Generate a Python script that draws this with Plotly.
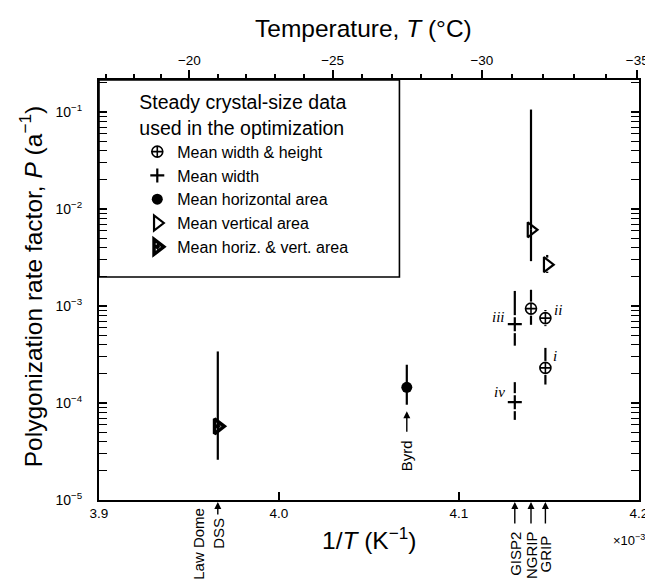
import math
import plotly.graph_objects as go

# ---------------- data ----------------
# inverse temperature in units of 1e-3 K^-1
site_names = ["DSS", "Byrd", "GISP2", "NGRIP", "GRIP"]
site_invT = [3.966, 4.071, 4.131, 4.140, 4.148]

# Mean width & height (circle with crosshair)
wh_invT = [4.140, 4.148, 4.148]
wh_P = [9.4e-4, 7.5e-4, 2.3e-4]
wh_lo = [6.4e-4, 6.2e-4, 1.55e-4]
wh_hi = [1.47e-3, 9.1e-4, 3.7e-4]
wh_tags = ["", "ii", "i"]

# Mean width (plus)
w_invT = [4.131, 4.131]
w_P = [6.5e-4, 1.02e-4]
w_lo = [3.9e-4, 6.7e-5]
w_hi = [1.43e-3, 1.64e-4]
w_tags = ["iii", "iv"]

# Mean horizontal area (filled circle)
ha_invT = [4.071]
ha_P = [1.45e-4]
ha_lo = [9.6e-5]
ha_hi = [2.48e-4]

# Mean vertical area (open triangle)
va_invT = [4.140, 4.149]
va_P = [6.1e-3, 2.67e-3]
va_lo = [2.9e-3, 2.19e-3]
va_hi = [1.06e-1, 3.36e-3]

# Mean horiz. & vert. area
hva_invT = [3.966]
hva_P = [5.75e-5]
hva_lo = [2.6e-5]
hva_hi = [3.4e-4]

temp_major = [-20, -25, -30, -35]
temp_minor = list(range(-17, -36, -1))
x_ticks = [3.9, 4.0, 4.1, 4.2]
y_ticks = [1e-5, 1e-4, 1e-3, 1e-2, 1e-1]
y_ticktext = ["10<sup>−5</sup>", "10<sup>−4</sup>", "10<sup>−3</sup>",
              "10<sup>−2</sup>", "10<sup>−1</sup>"]

# ---------------- layout constants ----------------
W, H = 653, 582
ML, MR, MT, MB = 91, 12, 72, 90
PW, PH = W - ML - MR, H - MT - MB
XR = [3.9, 4.2]
YR = [-5.0, -0.67]
DEC_PX = PH / (YR[1] - YR[0])
FONT = "Liberation Sans, Arial, sans-serif"
SERIF = "Liberation Serif, Times New Roman, serif"


def inv_t(tc):
    return 1000.0 / (273.15 + tc)


def px_y(py):
    """pixel row -> paper y"""
    return (H - MB - py) / PH


def px_x(px):
    return (px - ML) / PW


def bar_segments(xs, ys, lo, hi, gaps_px):
    bx, by = [], []
    for x, y, l, h, g in zip(xs, ys, lo, hi, gaps_px):
        f = 10 ** (g / DEC_PX)
        bx += [x, x, None, x, x, None]
        by += [h, y * f, None, y / f, l, None]
    return bx, by


fig = go.Figure()

series_bars = [
    (wh_invT, wh_P, wh_lo, wh_hi, [7, 7, 7]),
    (w_invT, w_P, w_lo, w_hi, [9, 9]),
    (ha_invT, ha_P, ha_lo, ha_hi, [0]),
    (va_invT, va_P, va_lo, va_hi, [0, 7]),
    (hva_invT, hva_P, hva_lo, hva_hi, [0]),
]
BX, BY = [], []
for s in series_bars:
    bx, by = bar_segments(*s)
    BX += bx
    BY += by
fig.add_trace(go.Scatter(x=BX, y=BY, mode="lines",
                         line=dict(color="black", width=2.2),
                         showlegend=False, hoverinfo="skip"))

fig.add_trace(go.Scatter(
    x=wh_invT, y=wh_P, mode="markers", name="Mean width & height",
    marker=dict(symbol="circle-cross", size=11, color="white",
                line=dict(color="black", width=1.6))))
fig.add_trace(go.Scatter(
    x=w_invT, y=w_P, mode="markers", name="Mean width",
    marker=dict(symbol="cross-thin", size=10, color="black",
                line=dict(color="black", width=2.2))))
fig.add_trace(go.Scatter(
    x=ha_invT, y=ha_P, mode="markers", name="Mean horizontal area",
    marker=dict(symbol="circle", size=11, color="black",
                line=dict(color="black", width=0))))
fig.add_trace(go.Scatter(
    x=va_invT, y=va_P, mode="markers", name="Mean vertical area",
    marker=dict(symbol="triangle-right-open", size=13, color="black",
                line=dict(color="black", width=2.2))))
fig.add_trace(go.Scatter(
    x=hva_invT, y=hva_P, mode="markers", name="Mean horiz. & vert. area",
    marker=dict(symbol="triangle-right-open-dot", size=13, color="black",
                line=dict(color="black", width=3.5))))

for ax in ["x2", "x3"]:
    fig.add_trace(go.Scatter(x=[None], y=[None], xaxis=ax, yaxis="y",
                             showlegend=False, hoverinfo="skip"))

annotations = []
tag_shift = {"i": (10, 12), "ii": (13, 8), "iii": (-16, 7), "iv": (-15, 10)}
for xs, ys, tags in [(wh_invT, wh_P, wh_tags), (w_invT, w_P, w_tags)]:
    for x, y, t in zip(xs, ys, tags):
        if not t:
            continue
        dx, dy = tag_shift[t]
        annotations.append(dict(
            x=x, y=math.log10(y), xref="x", yref="y", text="<i>%s</i>" % t,
            showarrow=False, xshift=dx, yshift=dy, xanchor="center",
            yanchor="middle",
            font=dict(family=SERIF, size=15, color="black")))

ARROW = dict(showarrow=True, arrowhead=2, arrowsize=1, arrowwidth=1.4,
             arrowcolor="black", ax=0)
LABEL_FONT = dict(family=FONT, size=15, color="black")

# Byrd label with arrow (relative to the Byrd point)
byrd_y = math.log10(ha_P[0])
annotations.append(dict(x=site_invT[1], y=byrd_y, xref="x", yref="y",
                        text="", ay=46, standoff=24, **ARROW))
annotations.append(dict(x=site_invT[1], y=byrd_y, xref="x", yref="y",
                        text="Byrd", textangle=-90, showarrow=False,
                        yshift=-68, xanchor="center", yanchor="middle",
                        font=LABEL_FONT))

# bottom site labels: arrows and rotated names
site_tail = {"DSS": 16, "GISP2": 25, "NGRIP": 25, "GRIP": 25}
site_center = {"DSS": 525, "GISP2": 546, "NGRIP": 547, "GRIP": 546}
for name, x in zip(site_names, site_invT):
    if name not in site_tail:
        continue
    annotations.append(dict(x=x, y=0, xref="x", yref="paper", text="",
                            ay=site_tail[name], standoff=2, **ARROW))
    annotations.append(dict(x=x, y=px_y(site_center[name]), xref="x",
                            yref="paper", text=name, textangle=-90,
                            showarrow=False, xanchor="center",
                            yanchor="middle", font=LABEL_FONT))
annotations.append(dict(x=site_invT[0], y=px_y(536), xref="x", yref="paper",
                        text="Law Dome", textangle=-90, showarrow=False,
                        xshift=-20, xanchor="center", yanchor="middle",
                        font=LABEL_FONT))

# axis titles
annotations += [
    dict(x=0.5, y=px_y(530), xref="paper", yref="paper",
         text="1/<i>T</i> (K<sup>−1</sup>)", showarrow=False,
         xanchor="center", yanchor="middle",
         font=dict(family=FONT, size=24.5, color="black")),
    dict(x=px_x(612), y=px_y(532), xref="paper", yref="paper",
         text="×10<sup>−3</sup>", showarrow=False, xanchor="left",
         yanchor="middle", font=dict(family=FONT, size=13, color="black")),
    dict(x=px_x(360), y=px_y(20), xref="paper", yref="paper",
         text="Temperature, <i>T</i> (°C)", showarrow=False,
         xanchor="center", yanchor="middle",
         font=dict(family=FONT, size=24.5, color="black")),
    dict(x=px_x(21), y=px_y(279), xref="paper", yref="paper",
         text="Polygonization rate factor, <i>P</i> (a<sup>−1</sup>)",
         textangle=-90, showarrow=False, xanchor="center", yanchor="middle",
         font=dict(family=FONT, size=24.5, color="black")),
]

shapes = [dict(type="rect", xref="paper", yref="paper",
               x0=0, x1=px_x(397), y0=px_y(269), y1=1,
               line=dict(color="black", width=1.6))]

fig.update_layout(
    width=W, height=H,
    margin=dict(l=ML, r=MR, t=MT, b=MB),
    paper_bgcolor="white", plot_bgcolor="white",
    font=dict(family=FONT, size=14, color="black"),
    showlegend=True,
    legend=dict(
        x=px_x(130), y=px_y(76), xanchor="left", yanchor="top",
        bgcolor="rgba(0,0,0,0)", borderwidth=0,
        font=dict(family=FONT, size=16, color="black"),
        title=dict(text="Steady crystal-size data<br>used in the optimization",
                   font=dict(family=FONT, size=19.5, color="black")),
        itemsizing="trace", tracegroupgap=0),
    annotations=annotations,
    shapes=shapes,
    xaxis=dict(range=XR, tickmode="array", tickvals=x_ticks,
               ticktext=["%.1f" % v for v in x_ticks],
               ticks="inside", ticklen=8, tickwidth=1.5, tickcolor="black",
               showline=True, linewidth=2, linecolor="black", mirror=True,
               showgrid=False, zeroline=False,
               tickfont=dict(family=FONT, size=13.5, color="black")),
    xaxis2=dict(overlaying="x", side="top", anchor="y", range=XR,
                tickmode="array", tickvals=[inv_t(t) for t in temp_minor],
                ticks="outside", ticklen=5, tickwidth=1.5, tickcolor="black",
                showticklabels=False, showline=False, showgrid=False,
                zeroline=False),
    xaxis3=dict(overlaying="x", side="top", anchor="y", range=XR,
                tickmode="array", tickvals=[inv_t(t) for t in temp_major],
                ticktext=["−%d" % abs(t) for t in temp_major],
                ticks="outside", ticklen=9, tickwidth=1.5, tickcolor="black",
                showline=False, showgrid=False, zeroline=False,
                tickfont=dict(family=FONT, size=13.5, color="black")),
    yaxis=dict(type="log", range=YR, tickmode="array", tickvals=y_ticks,
               ticktext=y_ticktext, ticks="inside", ticklen=8, tickwidth=1.5,
               tickcolor="black", showline=True, linewidth=2,
               linecolor="black", mirror="allticks", showgrid=False,
               zeroline=False, ticklabelstandoff=12,
               minor=dict(ticks="inside", ticklen=4, tickwidth=1.2,
                          tickcolor="black", dtick="D1", showgrid=False),
               tickfont=dict(family=FONT, size=14, color="black")),
)

fig.write_html("out.html")
